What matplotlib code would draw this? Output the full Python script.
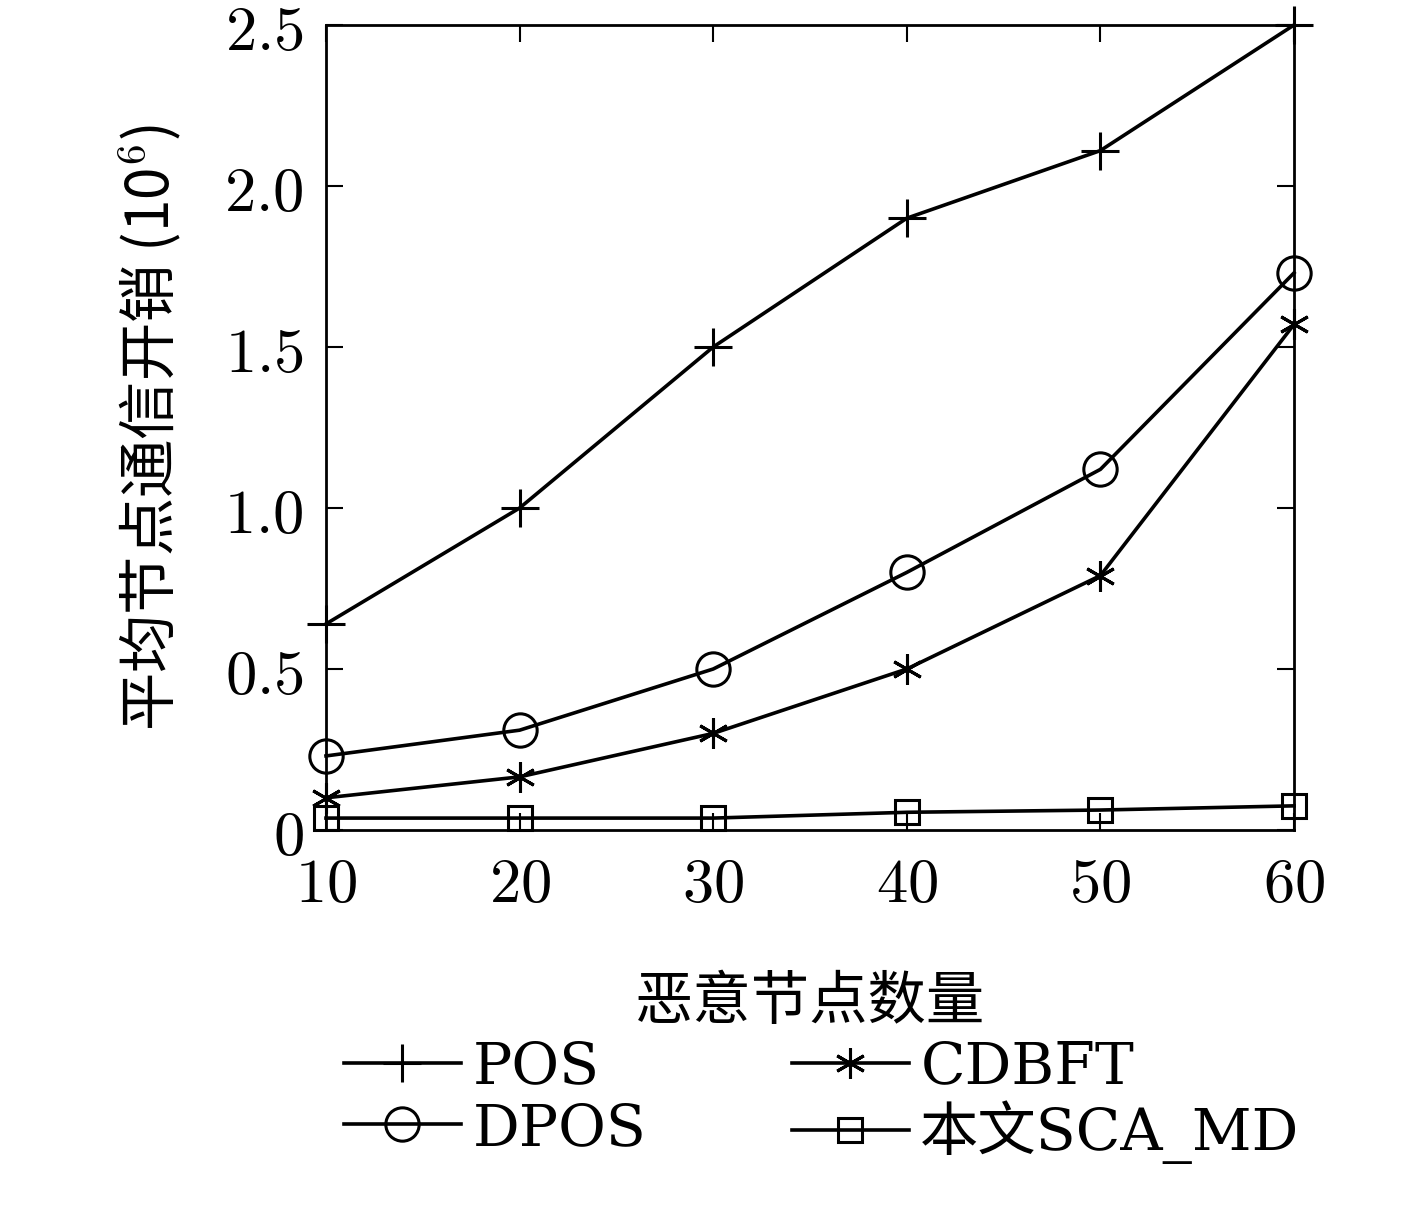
import matplotlib.pyplot as plt

plt.rcParams['font.family'] = ['Noto Sans CJK SC', 'DejaVu Serif']
plt.rcParams['mathtext.fontset'] = 'cm'

x = [10, 20, 30, 40, 50, 60]
pos = [0.64, 1.0, 1.5, 1.9, 2.11, 2.5]
dpos = [0.23, 0.31, 0.5, 0.8, 1.12, 1.73]
cdbft = [0.10, 0.165, 0.3, 0.5, 0.79, 1.57]
sca = [0.037, 0.037, 0.037, 0.055, 0.062, 0.075]
yticks = [0, 0.5, 1.0, 1.5, 2.0, 2.5]
ytick_labels = ['$0$', '$0.5$', '$1.0$', '$1.5$', '$2.0$', '$2.5$']

fig = plt.figure(figsize=(14.17, 12.17), dpi=100)
ax = fig.add_axes([326 / 1417, 1 - 830 / 1217, 968 / 1417, 805 / 1217])

kw = dict(color='black', lw=2.6, markerfacecolor='none', markeredgewidth=2.2, clip_on=False)
ax.plot(x, pos, marker='+', markersize=28, label='POS', **kw)
ax.plot(x, cdbft, marker=(6, 2, 0), markersize=22, label='CDBFT', **kw)
ax.plot(x, dpos, marker='o', markersize=24, label='DPOS', **kw)
ax.plot(x, sca, marker='s', markersize=17, label='本文SCA_MD', **kw)

ax.set_xlim(10, 60)
ax.set_ylim(0, 2.5)
ax.set_xticks(x)
ax.set_xticklabels([f'${v}$' for v in x])
ax.set_yticks(yticks)
ax.set_yticklabels(ytick_labels)
ax.tick_params(direction='in', length=12, width=1.5, labelsize=45, pad=16,
               top=True, right=True)
for s in ax.spines.values():
    s.set_linewidth(2)
ax.set_xlabel('恶意节点数量', fontsize=42, labelpad=40)
ax.set_ylabel('平均节点通信开销 (10$^6$)', fontsize=42, labelpad=30)

h, l = ax.get_legend_handles_labels()
order = [0, 2, 1, 3]
fig.legend([h[i] for i in order], [l[i] for i in order], ncol=2, frameon=False,
           loc='lower center', bbox_to_anchor=(0.58, 0.0), handlelength=2.0,
           handletextpad=0.2, columnspacing=2.5, labelspacing=0.1,
           prop={'family': ['DejaVu Serif', 'Noto Sans CJK SC'], 'size': 42})

fig.savefig('out.png', dpi=100)
